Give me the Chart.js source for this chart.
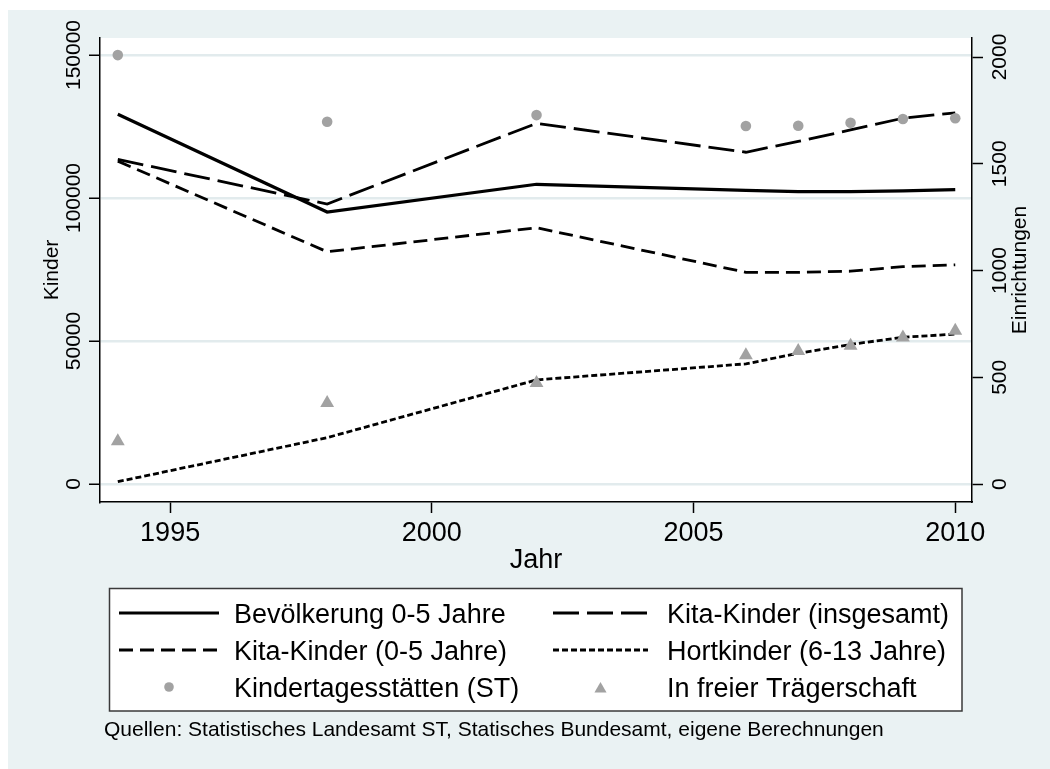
<!DOCTYPE html>
<html>
<head>
<meta charset="utf-8">
<script src="https://cdn.jsdelivr.net/npm/chart.js@4.4.1/dist/chart.umd.min.js"></script>
<style>
  html, body { margin: 0; padding: 0; background: #ffffff; }
  #wrap { width: 1050px; height: 769px; }
  canvas { display: block; }
</style>
</head>
<body>
<div id="wrap"><canvas id="c" width="1050" height="769"></canvas></div>
<script>
// ---- data ----
const years = [1994, 1998, 2002, 2006, 2007, 2008, 2009, 2010];
const bevoelkerung05 = [129300, 95100, 104800, 102700, 102200, 102200, 102500, 102900];
const kitaInsgesamt = [113500, 97900, 126100, 116000, 119800, 123800, 127900, 129800];
const kita05 = [112900, 81200, 89600, 74000, 74000, 74400, 76000, 76600];
const hortkinder = [800, 16200, 36400, 42000, 45700, 48800, 51300, 52400];
const kindertagesstaetten = [2009, 1697, 1728, 1677, 1678, 1692, 1710, 1713];
const freieTraegerschaft = [200, 380, 473, 603, 623, 648, 686, 718];

const labels = ['Bevölkerung 0-5 Jahre', 'Kita-Kinder (insgesamt)', 'Kita-Kinder (0-5 Jahre)',
                'Hortkinder (6-13 Jahre)', 'Kindertagesstätten (ST)', 'In freier Trägerschaft'];
const xTicks = [1995, 2000, 2005, 2010];
const yLeftTicks = [0, 50000, 100000, 150000];
const yRightTicks = [0, 500, 1000, 1500, 2000];
const xTitle = 'Jahr';
const yLeftTitle = 'Kinder';
const yRightTitle = 'Einrichtungen';
const note = 'Quellen: Statistisches Landesamt ST, Statisches Bundesamt, eigene Berechnungen';

// ---- styling ----
const FONT = "'Liberation Sans', Arial, Helvetica, sans-serif";
const MARKER = '#A2A2A2';
const GRID = '#E2EBED';
const BG = '#EAF2F3';

const pts = arr => years.map((yr, i) => ({ x: yr, y: arr[i] }));

function lineDs(label, arr, dash, width) {
  return { label, data: pts(arr), yAxisID: 'y', borderColor: '#000', backgroundColor: '#000',
           borderWidth: width, borderDash: dash, pointRadius: 0, pointHoverRadius: 0,
           tension: 0, fill: false, order: 1, borderCapStyle: 'butt' };
}
function markDs(label, arr, style, radius) {
  return { label, data: pts(arr), yAxisID: 'y1', showLine: false, pointStyle: style,
           pointRadius: radius, pointHoverRadius: radius, pointBackgroundColor: MARKER,
           pointBorderColor: MARKER, pointBorderWidth: 0, borderColor: MARKER,
           backgroundColor: MARKER, order: 0 };
}

const datasets = [
  lineDs(labels[0], bevoelkerung05, [], 3.2),
  lineDs(labels[1], kitaInsgesamt, [26, 8], 2.8),
  lineDs(labels[2], kita05, [14, 7], 2.8),
  lineDs(labels[3], hortkinder, [6, 3], 2.8),
  markDs(labels[4], kindertagesstaetten, 'circle', 5.3),
  markDs(labels[5], freieTraegerschaft, 'triangle', 8)
];

const bgPlugin = {
  id: 'bgPlugin',
  beforeDraw(chart) {
    const c = chart.ctx, a = chart.chartArea;
    c.save();
    c.fillStyle = '#ffffff';
    c.fillRect(0, 0, chart.width, chart.height);
    c.fillStyle = BG;
    c.fillRect(8, 10, chart.width - 8, chart.height - 10);
    c.fillStyle = '#ffffff';
    c.fillRect(a.left, a.top, a.right - a.left, a.bottom - a.top);
    c.restore();
  }
};

function rotText(c, txt, x, y, size) {
  c.save();
  c.translate(x, y);
  c.rotate(-Math.PI / 2);
  c.font = size + 'px ' + FONT;
  c.fillStyle = '#000';
  c.textAlign = 'center';
  c.textBaseline = 'alphabetic';
  c.fillText(txt, 0, 0);
  c.restore();
}

function drawMarker(c, style, x, y, r) {
  c.save();
  c.fillStyle = MARKER;
  c.beginPath();
  if (style === 'circle') {
    c.arc(x, y, r, 0, Math.PI * 2);
  } else {
    const k = 2 * Math.PI / 3;
    c.moveTo(x, y - r);
    c.lineTo(x + Math.sin(k) * r, y - Math.cos(k) * r);
    c.lineTo(x + Math.sin(2 * k) * r, y - Math.cos(2 * k) * r);
    c.closePath();
  }
  c.fill();
  c.restore();
}

const textPlugin = {
  id: 'textPlugin',
  afterDraw(chart) {
    const c = chart.ctx, a = chart.chartArea;
    const ys = chart.scales.y, ys1 = chart.scales.y1;
    const midY = (a.top + a.bottom) / 2;
    // y tick labels (rotated, like the reference)
    yLeftTicks.forEach(v => rotText(c, String(v), 80, ys.getPixelForValue(v), 21));
    yRightTicks.forEach(v => rotText(c, String(v), 1006, ys1.getPixelForValue(v), 21));
    // axis titles
    rotText(c, yLeftTitle, 58, midY, 21);
    rotText(c, yRightTitle, 1026, midY, 21);
    c.save();
    c.fillStyle = '#000';
    c.font = '27px ' + FONT;
    c.textAlign = 'center';
    c.textBaseline = 'alphabetic';
    c.fillText(xTitle, (a.left + a.right) / 2, 567.5);
    c.restore();

    // legend box
    const box = { l: 109.5, t: 588.5, r: 962, b: 711 };
    c.save();
    c.fillStyle = '#ffffff';
    c.fillRect(box.l, box.t, box.r - box.l, box.b - box.t);
    c.strokeStyle = '#3a3a3a';
    c.lineWidth = 1.5;
    c.strokeRect(box.l, box.t, box.r - box.l, box.b - box.t);
    const cols = [{ s0: 119, s1: 219, tx: 234 }, { s0: 553, s1: 648, tx: 667 }];
    const rowsY = [613, 650, 687];
    chart.data.datasets.forEach((ds, i) => {
      const col = cols[i % 2], yy = rowsY[Math.floor(i / 2)];
      if (ds.showLine === false) {
        drawMarker(c, ds.pointStyle, (col.s0 + col.s1) / 2, ds.pointStyle === 'triangle' ? yy + 2 : yy,
                   ds.pointStyle === 'triangle' ? 7 : 4.8);
      } else {
        c.save();
        c.strokeStyle = '#000';
        c.lineWidth = ds.borderWidth;
        c.setLineDash(ds.borderDash);
        c.beginPath();
        c.moveTo(col.s0, yy);
        c.lineTo(col.s1, yy);
        c.stroke();
        c.restore();
      }
      c.fillStyle = '#000';
      c.font = '27px ' + FONT;
      c.textAlign = 'left';
      c.textBaseline = 'alphabetic';
      c.fillText(ds.label, col.tx, yy + 10);
    });
    // footnote
    c.font = '21px ' + FONT;
    c.fillText(note, 104, 735.5);
    c.restore();
  }
};

const setTicks = arr => scale => { scale.ticks = arr.map(v => ({ value: v })); };

new Chart(document.getElementById('c'), {
  type: 'line',
  data: { datasets },
  options: {
    responsive: false,
    animation: false,
    devicePixelRatio: 1,
    layout: { padding: { top: 38, left: 0, right: 0, bottom: 0 } },
    plugins: { legend: { display: false }, tooltip: { enabled: false }, title: { display: false } },
    events: [],
    scales: {
      x: {
        type: 'linear', position: 'bottom', min: 1993.66, max: 2010.32,
        afterBuildTicks: setTicks(xTicks),
        afterFit: s => { s.height = 267; },
        grid: { drawOnChartArea: false, drawTicks: true, tickLength: 11, tickColor: '#000', tickWidth: 1.5 },
        border: { display: true, color: '#000', width: 1.5 },
        ticks: { color: '#000', padding: 4, font: { family: FONT, size: 27 }, maxRotation: 0, minRotation: 0,
                 callback: v => String(v) }
      },
      y: {
        type: 'linear', position: 'left', min: -6300, max: 155950,
        afterBuildTicks: setTicks(yLeftTicks),
        afterFit: s => { s.width = 100; },
        grid: { drawOnChartArea: true, color: GRID, lineWidth: 2.5, drawTicks: true, tickLength: 11,
                tickColor: '#000', tickWidth: 1.5 },
        border: { display: true, color: '#000', width: 1.5 },
        ticks: { display: false }
      },
      y1: {
        type: 'linear', position: 'right', min: -84, max: 2089,
        afterBuildTicks: setTicks(yRightTicks),
        afterFit: s => { s.width = 78; },
        grid: { drawOnChartArea: false, drawTicks: true, tickLength: 11, tickColor: '#000', tickWidth: 1.5 },
        border: { display: true, color: '#000', width: 1.5 },
        ticks: { display: false }
      }
    }
  },
  plugins: [bgPlugin, textPlugin]
});
</script>
</body>
</html>
